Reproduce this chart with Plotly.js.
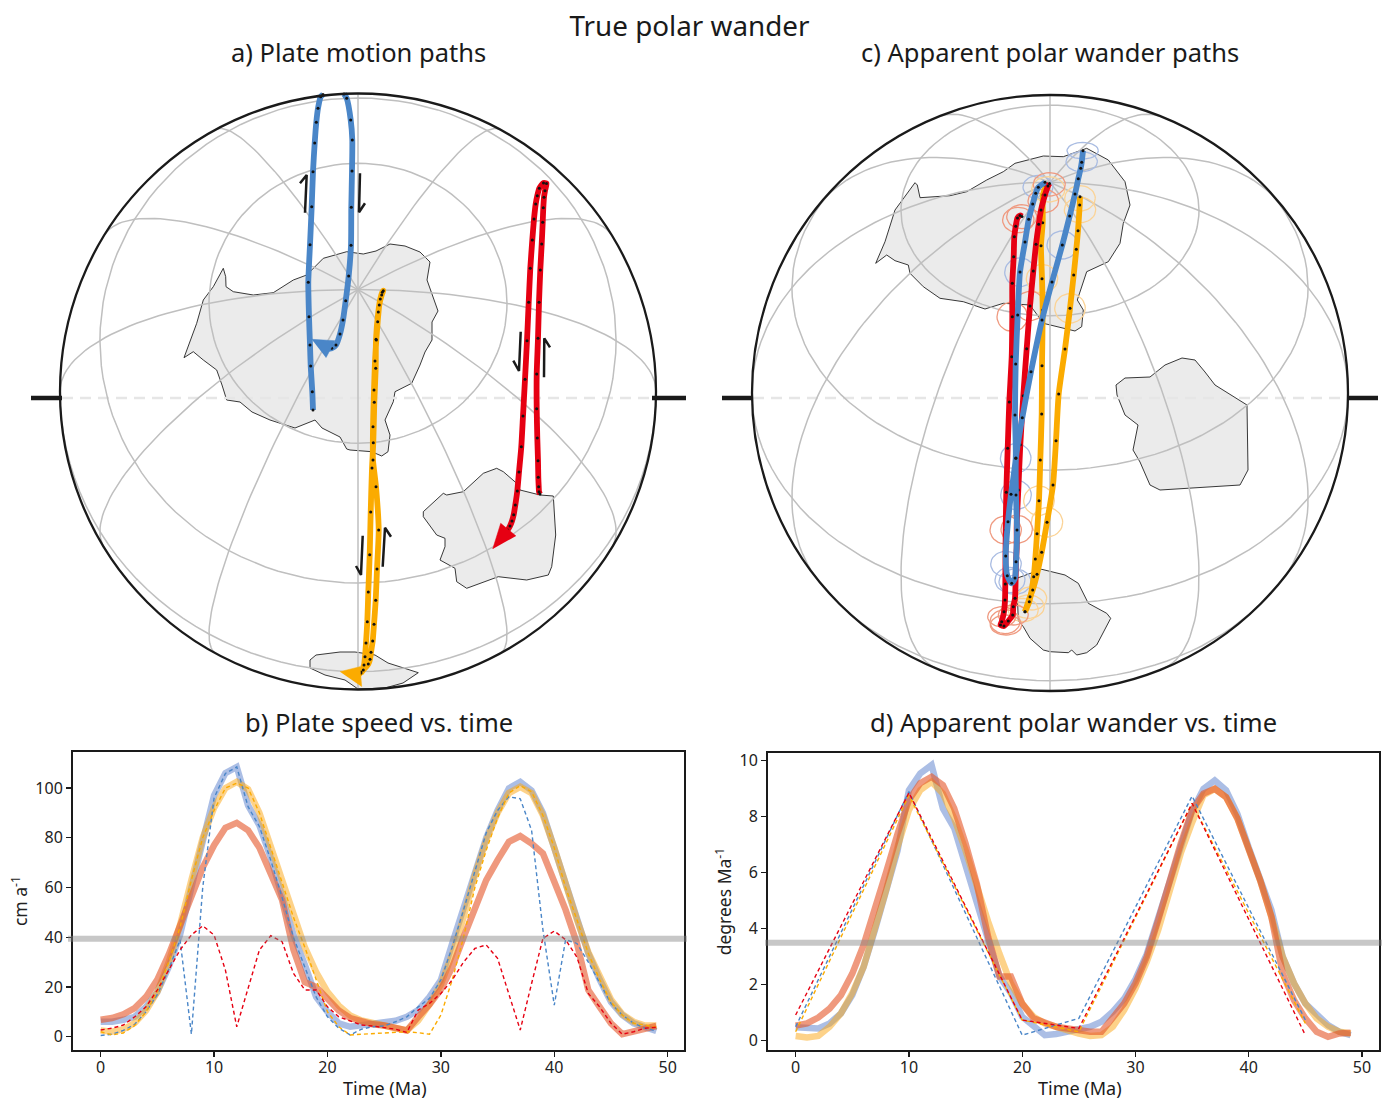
<!DOCTYPE html>
<html>
<head>
<meta charset="utf-8">
<script src="https://cdn.plot.ly/plotly-3.0.1.min.js"></script>
<style>html,body{margin:0;padding:0;background:#fff}#chart{width:1390px;height:1099px}</style>
</head>
<body>
<div id="chart"></div>
<script>
// ---------- time series ----------
const timeMa = Array.from({length:50},(_,i)=>i);
const speedBlueThick=[6,6,6.8,8,12,18,28,41,60,78,97,106,108.5,93,85,72,56,41,29,16,10,5.4,4,4.7,5,5.6,6.4,8,10.7,16,22.8,37.5,52,67,80,91,99.9,102.5,99,90,76,60,47,33.5,23,14,8.7,5.4,3.8,2.3];
const speedOrangeThick=[2.5,2,3,5.5,10.5,18,30,45,63,80,92,100,102.5,99.5,90,76,62,48,36,26,18,12.5,8.5,6.5,5.5,4.5,3.2,2.5,6.5,13,21,33,48,65,79,90,98,100.5,98,89,76,61,47,34,24,15,9,6,4.5,4.5];
const speedRedThick=[6.8,7.5,9,11.5,16,23,33,45,57,68,77,84,86,83,76,66,55,35,22,20,15.5,10.5,7.5,6,5,4.5,3.5,2.5,8,13,19,28,40,51,63,71,78.4,80.7,77.7,73.7,63,51,37.5,18.8,12,5.4,1,2,3.4,4.3];
const speedBlueDash=[0.5,1,2.5,5,10,17,27,39,1,60,96,105.9,108.5,92.5,84.5,71,56,40,28,16,8,3.4,0.7,3,4,4.3,6,8,12,15.4,22.8,36,51,67,82,91,96.5,95.7,83,43,12.7,39,37.5,30,22,13.4,8.7,5.4,3.4,2.3];
const speedOrangeDash=[2,0.7,1.5,4.5,10,18,30,44,63,80,91,100,102,100,90,76,62,48,36,22.8,10,4,0.7,1,1.3,1.6,2,2,1.6,1,8.7,22.8,40,60,75,88,98,101,98.5,89,76,60,47,33.5,23,14,8.7,5.4,4.7,3.8];
const speedRedDash=[2.7,3.4,4.7,8,12,18.8,26.8,34.9,40.9,44.6,40.9,26.8,4,19.4,34.9,40.6,38.2,25.5,18.8,18.8,12,8,6.3,4.7,4.3,3.8,3,1.7,10.7,13.4,17.4,22.8,30,35.5,36.9,31.5,17.4,2.7,21.4,39.5,42.5,39,32,17.4,12,5.4,1,2,3.4,3.8];
const apwBlueThick=[0.48,0.45,0.44,0.62,0.98,1.63,2.64,3.95,5.4,6.8,8.95,9.55,9.85,8.3,7.6,6.2,4.9,3.6,2.3,1.7,0.86,0.5,0.2,0.24,0.32,0.4,0.5,0.68,1.04,1.5,2.2,3.1,4.4,5.7,7.05,8.2,9,9.3,8.95,8.1,6.9,5.85,4.67,3,2.05,1.33,0.92,0.56,0.32,0.2];
const apwOrangeThick=[0.17,0.12,0.17,0.5,0.98,1.7,2.64,3.95,5.4,6.93,8.24,8.95,9.25,8.83,7.94,6.8,5.5,4.25,3.1,2.05,1.33,0.86,0.62,0.48,0.38,0.26,0.17,0.2,0.5,1.1,1.87,2.82,3.95,5.4,6.7,7.8,8.77,9,8.7,7.94,6.87,5.74,4.43,3,2.05,1.33,0.8,0.5,0.32,0.26];
const apwRedThick=[0.54,0.62,0.83,1.15,1.63,2.4,3.42,4.67,6.04,7.4,8.6,9.2,9.43,9.13,8.3,7.05,5.6,3.7,2.3,2.3,1.33,0.8,0.62,0.5,0.44,0.38,0.32,0.32,0.86,1.33,2.05,3,4.3,5.74,7.05,8.24,8.83,9,8.7,7.94,6.87,5.74,4.43,2.4,1.45,0.8,0.32,0.14,0.26,0.29];
const apwTime=[0,10,20,25,35,45];
const apwBlueDash=[0.5,8.9,0.2,0.8,8.74,0.74];
const apwOrangeDash=[0.32,8.77,0.74,0.32,8.48,0.62];
const apwRedDash=[0.92,8.86,0.74,0.44,8.48,0.2];
const speedRef=39.4, apwRef=3.5;

// ---------- map a ----------
const aBlue=[[313,410],[312.3,391.7],[310.7,366],[310,345],[309,316.7],[308.3,282.3],[310,244.7],[311.7,206.7],[313,171.7],[314.7,143],[316.3,122.3],[318,108.3],[320.7,96.7],[323,94.5],[null,null],[344,94],[346.7,98.3],[350.7,120],[352.3,140],[352,171],[351.3,207.3],[351,245.3],[348.7,276],[345.7,300.7],[343,320],[340,334],[336,345],[331.7,348.3],[328.3,348.3],[324.3,346.7]];
const aRed=[[540,494],[539,491.7],[538.7,486.7],[538.3,477.3],[538,460.7],[537.3,438],[536.7,408.7],[536.7,374],[538,338.3],[539,302.3],[540.3,270],[541.7,244],[542.7,222.3],[543.3,207.7],[544,197.3],[545,190.7],[546.5,183.5],[543.5,183],[539.3,188.3],[537.3,195.7],[535.7,204],[534,219],[532.3,240],[530.3,268.3],[528.7,302.3],[527,340.7],[525,379.3],[523,416],[521.3,446.7],[519,472],[517.3,491],[515.3,505],[513.7,514.7],[512,521],[510,526],[507.7,530],[505.7,532.7],[503.7,535]];
const aOrange=[[358.3,675],[361,672],[364,665],[365,656.7],[366,643],[367.3,621.7],[368.3,592],[369.7,554.7],[370.7,512],[372,468],[373.3,442.7],[374.3,402.3],[375.7,368.3],[376,339.3],[378.3,312],[380.3,299],[382.3,292.3],[383.3,290.7],[381.7,295],[379.3,305],[377.7,321.7],[376.3,340],[375,361],[374,390],[373,426.7],[373,460],[376,486.7],[378.7,530],[377,569],[375.7,600.3],[374,624.3],[372.7,641],[371,652.3],[370,659.3],[368.3,664],[363.3,670],[360.7,673.3]];
const aBlueHead=[[311.7,339.3],[335,340.7],[326,357.7]];
const aRedHead=[[492.7,549],[500.7,523.3],[516,536]];
const aOrangeHead=[[340,671.7],[360,666.7],[361.7,686.7]];
const aBarbs=[[305,212.7],[306.7,175],[300,183.3],[null,null],[360,173.3],[359,212.3],[365,203.3],[null,null],[520.7,331.7],[519,371],[513.3,360.7],[null,null],[544,377.3],[544.3,338.3],[550,347.3],[null,null],[362.7,535.7],[361,575],[356,566],[null,null],[382.7,566.7],[385,527.7],[391,536.7]];
const aLandNorth=[[184,357.7],[188.3,346.7],[196.7,323.3],[203.3,300],[213.3,286.7],[223.3,268.3],[225.7,276.7],[226,286.7],[233.3,291.7],[253.3,295],[273.3,292.7],[293.3,280],[306.7,275],[323.3,258.3],[346.7,251.7],[363.3,254],[376,251],[390,244],[405,246],[420,252],[430,262],[427,280],[434,300],[438,311],[432,322],[432,340],[425,352],[420,365],[411.7,383.3],[395,391.7],[393.3,401.7],[385,420],[390,435],[388,451.7],[381.7,456],[371.7,451.7],[350,450],[346.7,449],[340,437],[322,428],[315,420],[295,428],[270,420],[252,412],[240,402],[226.7,400],[222,385],[216.7,370],[203.3,360],[193.3,351.7],[184,357.7]];
const aLandEast=[[423.3,511.7],[443.3,493.3],[446.7,495],[463.3,491.7],[483.3,473.3],[496.7,468.3],[503.3,471.7],[516.7,483.3],[520,490],[540,495],[553.3,496],[555.7,535],[551.7,566.7],[548.3,575],[526.7,580],[498.3,576.7],[466.7,588.3],[456.7,581.7],[455,568.3],[440,560],[445,546.7],[445,538.3],[436.7,535],[423.3,516.7],[423.3,511.7]];
const aLandSouth=[[310,660],[316,655],[340,652],[355,652],[375,655],[388,663],[418.3,672.7],[410,678],[403,683],[385,688],[358,689],[345,680],[325,675],[310,668],[310,660]];

// ---------- map c ----------
const cRed=[[1022,216.5],[1020,215.5],[1017.5,218],[1015.7,226.3],[1014.3,236.7],[1013.7,256.7],[1012.3,283.3],[1012.3,316.7],[1011.7,356.7],[1009.3,402],[1007.7,448.3],[1006.3,492.3],[1005.7,530],[1005.3,584],[1005,600],[1004,611.7],[1001.7,621.7],[1000.5,625],[1004,626],[1008.3,621],[1012.7,615],[1013.3,606.7],[1015,598.3],[1016,561.7],[1016.7,547.7],[1016.7,525.7],[1018.3,490],[1020.3,444.7],[1023.3,395.7],[1026.7,348.7],[1030,306],[1033.3,271],[1036,244.3],[1038.7,224.3],[1041,210],[1045,195],[1048,186],[1049.5,183.5]];
const cBlue=[[1083,150.7],[1081.7,162.3],[1080.7,168.3],[1078.3,178.7],[1075,194],[1069.7,216],[1062.3,245],[1052,282],[1042,320],[1031,371.7],[1022.3,417.7],[1016,458],[1016,495],[1017,530],[1016,561.7],[1015,578],[1011.7,583.3],[1007.3,575.7],[1005.7,556],[1008,521.7],[1011,494.3],[1015.7,458.3],[1015,415],[1015.7,364],[1017.7,315],[1020,272],[1025,242],[1028.7,219.3],[1032.7,204],[1035.7,193.3],[1038.3,187.3],[1045,182.3]];
const cOrange=[[1025,611.7],[1030,596.7],[1032.7,590],[1037,574.3],[1041.7,552.3],[1047,522.3],[1053,485],[1056,440.7],[1058.7,394],[1065,349],[1070,308.3],[1073.7,275],[1076.3,249.3],[1078,230.7],[1079.7,205],[1080,196.7],[null,null],[1046,186],[1043,195],[1042.7,222.7],[1041,245.7],[1042,278.7],[1042.7,310],[1042,365.7],[1041.7,414],[1040.3,460],[1039,500.7],[1037,533.7],[1035.3,559],[1033.7,576.7],[1029.3,601.7],[1025,611.7]];
const cLandNorth=[[875.7,263.3],[886.7,255],[895,260.7],[908.3,265],[910,273.3],[923.3,286.7],[940,298.3],[963.3,301.7],[985,309],[1003.3,303.3],[1030,305],[1043.3,323.3],[1075,331],[1081.7,326.7],[1083.3,310],[1077.3,300],[1086.7,271.7],[1108.3,261.7],[1120,243.3],[1123.3,223.3],[1130,205],[1125,181.7],[1108.3,160],[1086.7,148.3],[1063.3,156.7],[1043.3,156],[1015,163.3],[1003.3,171.7],[986.7,180],[966.7,191.7],[950,195.7],[920,197.7],[917.3,185],[915,182.7],[895,210],[885,241.7],[875.7,263.3]];
const cLandEast=[[1116,385],[1125,378],[1150,377],[1165,365],[1182,358],[1195,360],[1205,372],[1215,385],[1247,405],[1248,470],[1240,485],[1195,488],[1160,490],[1150,485],[1140,462],[1133,450],[1138,425],[1125,415],[1117,395],[1116,385]];
const cLandSouth=[[1016.7,578.3],[1026.7,575],[1041.7,569.3],[1065,575],[1078.3,583.3],[1088.3,603.3],[1106.7,613.3],[1110.7,618.3],[1096.7,645],[1086.7,652.7],[1076.7,655],[1071.7,650],[1068.3,652.7],[1050,651.7],[1043.3,650],[1030,638.3],[1023.3,626.7],[1018.3,620.7],[1016.7,578.3]];
// confidence ellipses: centre x, centre y, radius x, radius y
const cBlueEllipses=[[1082.7,150.7,15.7,8.3],[1081.7,161.7,15.7,10],[1038,187,15,11.5],[1062.3,245,15.3,14],[1020,272.3,15.3,14.3],[1015.7,458.3,15.3,14.7],[1016,495,15.3,14.7],[1006,564,15.3,12.7],[1010,580,15,12.7],[1015,581.7,16,12.7]];
const cOrangeEllipses=[[1048.3,189.3,16.7,12.7],[1080,198.3,15.3,12.7],[1080,210,15.7,12.7],[1042,278.7,15.7,14.3],[1070,308.3,15.3,14.7],[1039,500.7,15.3,14.7],[1047,522.3,15.7,14.7],[1031.7,598.3,15,11.7],[1028.3,606.7,16,11.7],[1023.3,610,15,11.7]];
const cRedEllipses=[[1049.3,184.3,16,11.7],[1043.3,201,15.3,11.7],[1021.7,216.7,15,12],[1018.3,220,15.7,12.7],[1030,306,15,14.7],[1012.3,316.7,15.3,14.7],[1005.7,530,15.7,14],[1016.7,529.3,15.7,14],[1001.7,616.7,14,10],[1005,621.7,15,12],[1006,625,15.7,10],[1013.3,615,15,10]];

// ---------- globe grid spec ----------
const gridLats=[60,30,0,-30];
const gridLons=[0,30,60,90,120,150,180,210,240,270,300,330];
const globeA={cx:358,cy:391.5,R:298,tilt:20};
const globeC={cx:1050,cy:393,R:298,tilt:45};

const BLUE='#4a86c8',ORANGE='#fbab00',RED='#e60012',INK='#1a1a1a',GRID='#bfbfbf',LAND='#ebebeb';
const FONT='"Noto Sans", "Open Sans", sans-serif';
const W=1390,H=1099;
const xs=p=>p.map(q=>q[0]), ys=p=>p.map(q=>q[1]);
const traces=[];

function project(lat,lon,g){
  const r=Math.PI/180, p0=(90-g.tilt)*r, f=lat*r, l=lon*r;
  if(Math.sin(p0)*Math.sin(f)+Math.cos(p0)*Math.cos(f)*Math.cos(l)<0) return [null,null];
  return [g.cx+g.R*Math.cos(f)*Math.sin(l), g.cy-g.R*(Math.cos(p0)*Math.sin(f)-Math.sin(p0)*Math.cos(f)*Math.cos(l))];
}
function gridPath(g){
  const pts=[];
  gridLats.forEach(lat=>{for(let l=0;l<=360;l+=3)pts.push(project(lat,l,g));pts.push([null,null]);});
  gridLons.forEach(lon=>{for(let f=90;f>=-89;f-=2)pts.push(project(f,lon,g));pts.push([null,null]);});
  return pts;
}
function ellipsePath(list){
  const pts=[];
  list.forEach(e=>{for(let a=0;a<=360;a+=10){const r=a*Math.PI/180;pts.push([e[0]+e[2]*Math.cos(r),e[1]+e[3]*Math.sin(r)]);}pts.push([null,null]);});
  return pts;
}
function addLand(p,ax,ay){traces.push({x:xs(p),y:ys(p),xaxis:ax,yaxis:ay,mode:'lines',fill:'toself',fillcolor:LAND,line:{color:'#222',width:0.9},hoverinfo:'skip'});}
function addPath(p,color,ax,ay){traces.push({x:xs(p),y:ys(p),xaxis:ax,yaxis:ay,mode:'lines+markers',line:{color:color,width:5.8,shape:'spline',smoothing:0.6},marker:{color:'#111',size:3},hoverinfo:'skip'});}
function addHead(p,color,ax,ay){traces.push({x:xs(p),y:ys(p),xaxis:ax,yaxis:ay,mode:'lines',fill:'toself',fillcolor:color,line:{color:color,width:0.5},hoverinfo:'skip'});}
function addLine(p,color,width,ax,ay,dash){traces.push({x:xs(p),y:ys(p),xaxis:ax,yaxis:ay,mode:'lines',line:{color:color,width:width,dash:dash||'solid'},connectgaps:false,hoverinfo:'skip'});}

// map a
[aLandNorth,aLandEast,aLandSouth].forEach(p=>addLand(p,'x3','y3'));
addLine([[62,398],[652,398]],'#e6e6e6',2.5,'x3','y3','11px,7px');
addLine(gridPath(globeA),GRID,1.5,'x3','y3');
addLine(aBarbs,INK,2.5,'x3','y3');
addPath(aBlue,BLUE,'x3','y3');addHead(aBlueHead,BLUE,'x3','y3');
addPath(aRed,RED,'x3','y3');addHead(aRedHead,RED,'x3','y3');
addPath(aOrange,ORANGE,'x3','y3');addHead(aOrangeHead,ORANGE,'x3','y3');
addLine([[31,398],[62,398],[null,null],[652,398],[686,398]],INK,4.5,'x3','y3');
// map c
[cLandNorth,cLandEast,cLandSouth].forEach(p=>addLand(p,'x4','y4'));
addLine([[753,398],[1347,398]],'#e6e6e6',2.5,'x4','y4','11px,7px');
addLine(gridPath(globeC),GRID,1.5,'x4','y4');
addLine(ellipsePath(cBlueEllipses),'#a9bce2',1.3,'x4','y4');
addLine(ellipsePath(cOrangeEllipses),'#fbd396',1.3,'x4','y4');
addLine(ellipsePath(cRedEllipses),'#ef9a80',1.3,'x4','y4');
addPath(cOrange,ORANGE,'x4','y4');
addPath(cRed,RED,'x4','y4');
addPath(cBlue,BLUE,'x4','y4');
addLine([[722,398],[753,398],[null,null],[1347,398],[1378,398]],INK,4.5,'x4','y4');

// charts
const TB='rgba(80,120,200,0.48)',TO='rgba(251,165,20,0.5)',TR='rgba(228,85,40,0.6)';
function series(x,y,color,width,ax,ay,dash){traces.push({x:x,y:y,xaxis:ax,yaxis:ay,mode:'lines',line:{color:color,width:width,dash:dash||'solid'},hoverinfo:'skip'});}
series(timeMa,speedBlueThick,TB,6.5,'x','y');
series(timeMa,speedOrangeThick,TO,6.5,'x','y');
series(timeMa,speedRedThick,TR,6.5,'x','y');
series(timeMa,speedBlueDash,BLUE,1.4,'x','y','4px,3px');
series(timeMa,speedOrangeDash,ORANGE,1.4,'x','y','4px,3px');
series(timeMa,speedRedDash,RED,1.4,'x','y','4px,3px');
series(timeMa,apwBlueThick,TB,6.5,'x2','y2');
series(timeMa,apwOrangeThick,TO,6.5,'x2','y2');
series(timeMa,apwRedThick,TR,6.5,'x2','y2');
series(apwTime,apwBlueDash,BLUE,1.4,'x2','y2','4px,3px');
series(apwTime,apwOrangeDash,ORANGE,1.4,'x2','y2','4px,3px');
series(apwTime,apwRedDash,RED,1.4,'x2','y2','4px,3px');

function pxX(a,b){return [a/W,b/W];}
function pxY(t,b){return [1-b/H,1-t/H];}
const TICKFONT={family:FONT,size:16,color:'#222'}, LABELFONT={family:FONT,size:17.5,color:'#222'};
function chartX(dom,range,anchor){return {domain:dom,range:range,anchor:anchor,showgrid:false,zeroline:false,showline:true,mirror:true,linecolor:INK,linewidth:2,ticks:'outside',ticklen:5,tickwidth:1.3,tickcolor:INK,tickvals:[0,10,20,30,40,50],tickfont:TICKFONT,ticklabelstandoff:-3};}
function chartY(dom,range,anchor,ticks,label){return {domain:dom,range:range,anchor:anchor,showgrid:false,zeroline:false,showline:true,mirror:true,linecolor:INK,linewidth:2,ticks:'outside',ticklen:5,tickwidth:1.3,tickcolor:INK,tickvals:ticks,tickfont:TICKFONT,title:{text:label,font:LABELFONT,standoff:3}};}
function mapAxis(dom,range,anchor){return {domain:dom,range:range,anchor:anchor,visible:false,fixedrange:true};}
function titleAnn(text,px,py,size){return {text:text,xref:'paper',yref:'paper',x:px/W,y:1-py/H,xanchor:'center',yanchor:'middle',showarrow:false,font:{family:FONT,size:size,color:'#1a1a1a'}};}

const layout={
  width:W,height:H,margin:{l:0,r:0,t:0,b:0},paper_bgcolor:'#fff',plot_bgcolor:'rgba(0,0,0,0)',showlegend:false,
  font:{family:FONT},
  title:{text:'True polar wander',x:689.5/W,xanchor:'center',y:1-26/H,yanchor:'middle',font:{family:FONT,size:27.8,color:'#1a1a1a'}},
  xaxis:chartX(pxX(73,684),[-2.44,51.44],'y'),
  yaxis:chartY(pxY(752,1050),[-5.35,114.5],'x',[0,20,40,60,80,100],'cm a<sup>-1</sup>'),
  xaxis2:chartX(pxX(768,1379),[-2.44,51.5],'y2'),
  yaxis2:chartY(pxY(753,1050),[-0.33,10.28],'x2',[0,2,4,6,8,10],'degrees Ma<sup>-1</sup>'),
  xaxis3:mapAxis(pxX(20,700),[20,700],'y3'),
  yaxis3:mapAxis(pxY(70,710),[710,70],'x3'),
  xaxis4:mapAxis(pxX(710,1390),[710,1390],'y4'),
  yaxis4:mapAxis(pxY(70,710),[710,70],'x4'),
  annotations:[
    titleAnn('a) Plate motion paths',358,52,25.5),
    titleAnn('c) Apparent polar wander paths',1050,52,25.5),
    titleAnn('b) Plate speed vs. time',379,722,25.5),
    titleAnn('d) Apparent polar wander vs. time',1073.5,722,25.5),
    titleAnn('Time (Ma)',385,1088,18),
    titleAnn('Time (Ma)',1079.5,1088,18)
  ],
  shapes:[
    {type:'circle',xref:'x3',yref:'y3',x0:globeA.cx-globeA.R,x1:globeA.cx+globeA.R,y0:globeA.cy-globeA.R,y1:globeA.cy+globeA.R,line:{color:INK,width:2.3},layer:'above'},
    {type:'circle',xref:'x4',yref:'y4',x0:globeC.cx-globeC.R,x1:globeC.cx+globeC.R,y0:globeC.cy-globeC.R,y1:globeC.cy+globeC.R,line:{color:INK,width:2.3},layer:'above'},
    {type:'line',xref:'paper',yref:'y',x0:68/W,x1:687/W,y0:speedRef,y1:speedRef,line:{color:'rgba(130,130,130,0.45)',width:6},layer:'above'},
    {type:'line',xref:'paper',yref:'y2',x0:765/W,x1:1382/W,y0:apwRef,y1:apwRef,line:{color:'rgba(130,130,130,0.45)',width:6},layer:'above'}
  ]
};
Plotly.newPlot('chart',traces,layout,{staticPlot:true,displayModeBar:false});
</script>
</body>
</html>
